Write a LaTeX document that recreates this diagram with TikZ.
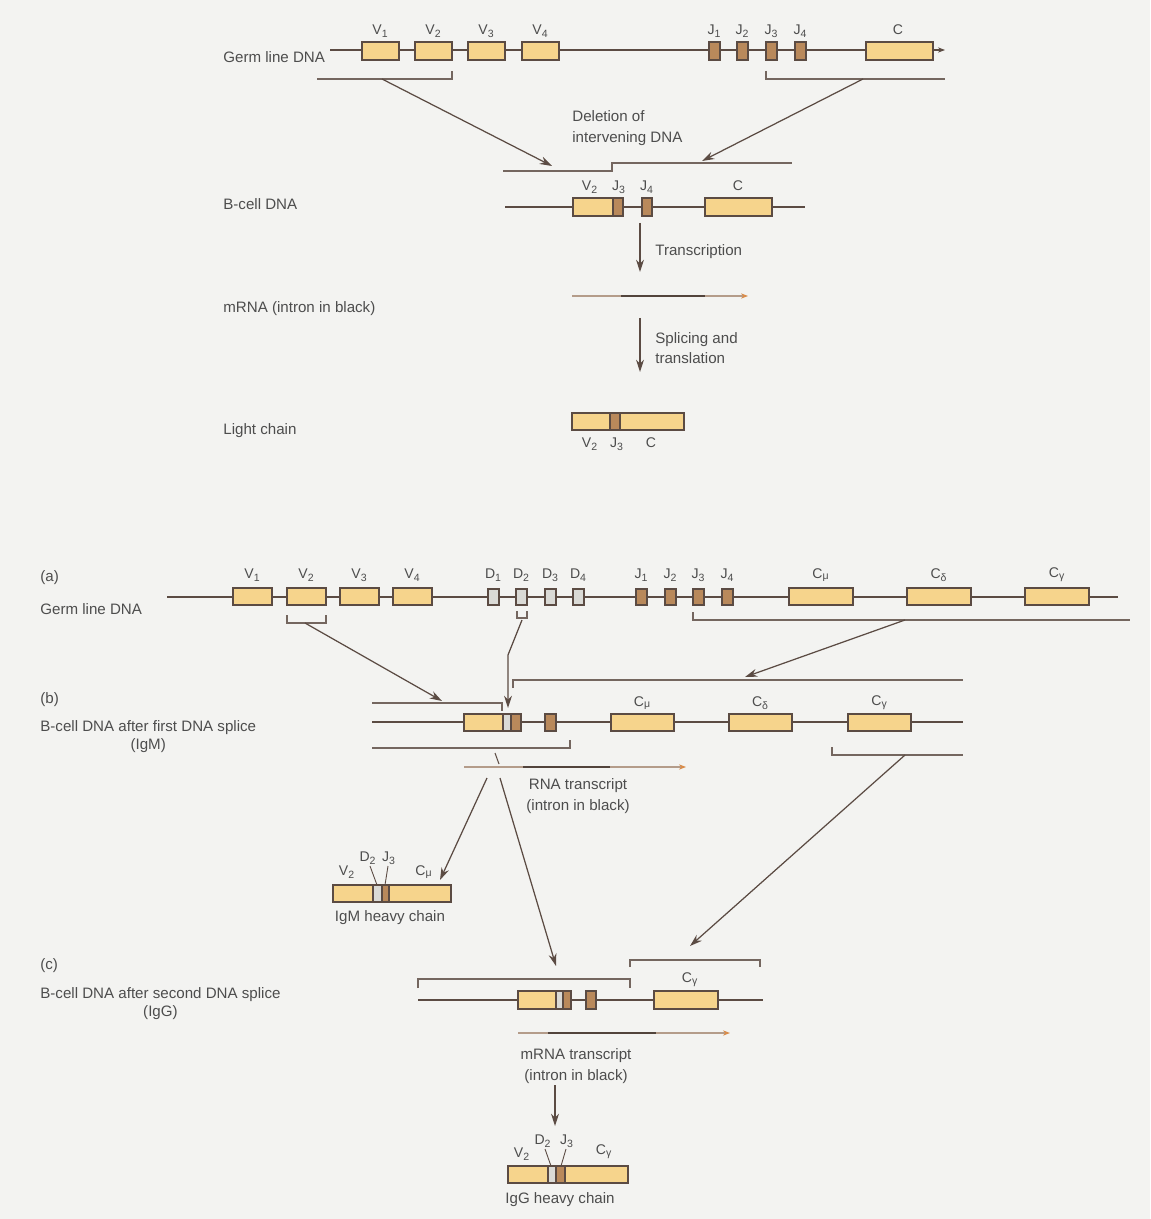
\documentclass[tikz,border=0pt]{standalone}
\usepackage{fontspec}
\setmainfont{Liberation Sans}
\usetikzlibrary{arrows.meta}
\definecolor{bgcol}{HTML}{F3F3F1}
\definecolor{dnacol}{HTML}{5B4B43}
\definecolor{vfill}{HTML}{F6D48C}
\definecolor{jfill}{HTML}{B9895B}
\definecolor{dfill}{HTML}{DADAD6}
\definecolor{txtcol}{HTML}{4D4D4D}
\definecolor{rnacol}{HTML}{B49C8A}
\definecolor{tipcol}{HTML}{D98C4A}
\tikzset{
  dna/.style={draw=dnacol, line width=1.1pt},
  vbox/.style={draw=dnacol, fill=vfill, line width=0.9pt},
  jbox/.style={draw=dnacol, fill=jfill, line width=0.9pt},
  dbox/.style={draw=dnacol, fill=dfill, line width=0.9pt},
  brak/.style={draw=dnacol!85, line width=0.8pt},
  arr/.style={draw=dnacol, line width=0.7pt, -{Stealth[length=7pt,width=4.5pt]}},
  rna/.style={draw=rnacol, line width=0.8pt, -{Stealth[length=4pt,width=3pt,color=tipcol]}},
  intron/.style={draw=dnacol!90!black, line width=1.4pt},
  lbl/.style={text=txtcol, font=\fontsize{8.6}{11.5}\selectfont, inner sep=0pt},
  seglbl/.style={text=txtcol, font=\fontsize{8}{9}\selectfont, inner sep=0pt}
}

\begin{document}
\begin{tikzpicture}[x=0.02cm, y=-0.02cm]
    \fill[bgcol] (0,0) rectangle (1150,1219);
    \useasboundingbox (0,0) rectangle (1150,1219);

    % light chain, germ line
    \node[lbl, anchor=west] (germA) at (223,57) {Germ line DNA};
    \draw[dna, -{Stealth[length=4pt,width=3pt]}] (330,50) -- (945,50);
    \foreach \x/\n in {362/1,415/2,468/3,522/4} {
        \draw[vbox] (\x,42) rectangle ++(37,18);
        \node[seglbl] (v\n) at (\x+18.5,31) {V\textsubscript{\n}};
    }
    \foreach \x/\n in {709/1,737/2,766/3,795/4} {
        \draw[jbox] (\x,42) rectangle ++(11,18);
        \node[seglbl] (j\n) at (\x+5.5,31) {J\textsubscript{\n}};
    }
    \draw[vbox] (866,42) rectangle (933,60);
    \node[seglbl] (c0) at (898,30) {C};
    \draw[brak] (317,79) -- (452,79) -- (452,71);
    \draw[brak] (766,71) -- (766,79) -- (945,79);
    \coordinate (bv) at (382,79);
    \coordinate (tv) at (552,166);
    \coordinate (bj) at (863,79);
    \coordinate (tj) at (702,161);
    \draw[arr] (bv) -- (tv);
    \draw[arr] (bj) -- (tj);
    \node[lbl, anchor=west, align=left] (del) at (572,128) {Deletion of\\intervening DNA};

    % B-cell DNA
    \draw[brak] (503,171) -- (612,171) -- (612,163) -- (792,163);
    \node[lbl, anchor=west] (bcell) at (223,204) {B-cell DNA};
    \draw[dna] (505,207) -- (805,207);
    \draw[vbox] (573,198) rectangle (613,216);
    \draw[jbox] (613,198) rectangle (623,216);
    \draw[jbox] (642,198) rectangle (652,216);
    \draw[vbox] (705,198) rectangle (772,216);
    \node[seglbl] (bv2) at (590,187) {V\textsubscript{2}};
    \node[seglbl] (bj3) at (619,187) {J\textsubscript{3}};
    \node[seglbl] (bj4) at (647,187) {J\textsubscript{4}};
    \node[seglbl] (bc) at (738,186) {C};

    % transcription and splicing
    \coordinate (tr1) at (640,223);
    \coordinate (tr2) at (640,272);
    \draw[arr] (tr1) -- (tr2);
    \node[lbl, anchor=west] (trans) at (655,252) {Transcription};
    \node[lbl, anchor=west] (mrna) at (223,309) {mRNA (intron in black)};
    \draw[rna] (572,296) -- (748,296);
    \draw[intron] (621,296) -- (705,296);
    \coordinate (sp1) at (640,318);
    \coordinate (sp2) at (640,372);
    \draw[arr] (sp1) -- (sp2);
    \node[lbl, anchor=west, align=left] (splice) at (655,348) {Splicing and\\translation};
    \node[lbl, anchor=west] (light) at (223,431) {Light chain};
    \draw[vbox] (572,413) rectangle (684,430);
    \draw[jbox] (610,413) rectangle (620,430);
    \node[seglbl] (lv2) at (590,444) {V\textsubscript{2}};
    \node[seglbl] (lj3) at (617,444) {J\textsubscript{3}};
    \node[seglbl] (lc) at (651,443) {C};

    % heavy chain (a) germ line
    \node[lbl, anchor=west] (la) at (40,578) {(a)};
    \node[lbl, anchor=west] (germB) at (40,609) {Germ line DNA};
    \draw[dna] (167,597) -- (1118,597);
    \foreach \x/\n in {233/1,287/2,340/3,393/4} {
        \draw[vbox] (\x,588) rectangle ++(39,17);
        \node[seglbl] (hv\n) at (\x+19.5,575) {V\textsubscript{\n}};
    }
    \foreach \x/\n in {488/1,516/2,545/3,573/4} {
        \draw[dbox] (\x,589) rectangle ++(11,16);
        \node[seglbl] (hd\n) at (\x+5.5,575) {D\textsubscript{\n}};
    }
    \foreach \x/\n in {636/1,665/2,693/3,722/4} {
        \draw[jbox] (\x,589) rectangle ++(11,16);
        \node[seglbl] (hj\n) at (\x+5.5,575) {J\textsubscript{\n}};
    }
    \foreach \x/\n/\g in {789/1/μ,907/2/δ,1025/3/γ} {
        \draw[vbox] (\x,588) rectangle ++(64,17);
        \node[seglbl] (hc\n) at (\x+32,575) {C\textsubscript{\g}};
    }
    \draw[brak] (287,615) -- (287,623) -- (326,623) -- (326,615);
    \draw[brak] (517,611) -- (517,618) -- (527,618) -- (527,611);
    \draw[brak] (693,612) -- (693,620) -- (1130,620);
    \coordinate (hbv) at (305,623);
    \coordinate (htv) at (442,701);
    \coordinate (hbd) at (522,620);
    \coordinate (hkd) at (508,655);
    \coordinate (htd) at (508,708);
    \coordinate (hbj) at (905,620);
    \coordinate (htj) at (745,677);
    \draw[arr] (hbv) -- (htv);
    \draw[arr] (hbd) -- (hkd) -- (htd);
    \draw[arr] (hbj) -- (htj);

    % (b) first splice
    \node[lbl, anchor=west] (lb) at (40,700) {(b)};
    \node[lbl, anchor=west, align=center, font=\fontsize{8.6}{10.3}\selectfont] (first) at (40,737) {B-cell DNA after first DNA splice\\(IgM)};
    \draw[brak] (372,703) -- (502,703) -- (502,711);
    \draw[brak] (513,688) -- (513,680) -- (963,680);
    \draw[dna] (372,722) -- (963,722);
    \draw[vbox] (464,714) rectangle (503,731);
    \draw[dbox] (503,714) rectangle (511,731);
    \draw[jbox] (511,714) rectangle (521,731);
    \draw[jbox] (545,714) rectangle (556,731);
    \foreach \x/\n/\g in {611/1/μ,729/2/δ,848/3/γ} {
        \draw[vbox] (\x,714) rectangle ++(63,17);
        \node[seglbl] (bc\n) at (\x+31.5,703) {C\textsubscript{\g}};
    }
    \draw[brak] (372,748) -- (570,748) -- (570,740);
    \draw[brak] (832,747) -- (832,755) -- (963,755);
    \draw[dnacol, line width=0.6pt] (495,753) -- (499,764);
    \draw[rna] (464,767) -- (686,767);
    \draw[intron] (523,767) -- (610,767);
    \node[lbl, align=center] (rnat) at (578,796) {RNA transcript\\(intron in black)};
    \coordinate (bgam) at (905,755);
    \coordinate (tgam) at (690,946);
    \draw[arr] (bgam) -- (tgam);
    \coordinate (r1) at (487,778);
    \coordinate (r2) at (500,778);
    \coordinate (tigm) at (440,880);
    \coordinate (tsec) at (556,966);
    \draw[arr] (r1) -- (tigm);
    \draw[arr] (r2) -- (tsec);

    % IgM heavy chain
    \draw[vbox] (333,885) rectangle (451,902);
    \draw[dbox] (373,885) rectangle (382,902);
    \draw[jbox] (382,885) rectangle (389,902);
    \node[seglbl] (mv) at (347,872) {V\textsubscript{2}};
    \node[seglbl] (md) at (368,858) {D\textsubscript{2}};
    \node[seglbl] (mj) at (389,858) {J\textsubscript{3}};
    \node[seglbl] (mc) at (424,872) {C\textsubscript{μ}};
    \draw[dnacol, line width=0.5pt] (370,866) -- (377,885);
    \draw[dnacol, line width=0.5pt] (388,866) -- (385,885);
    \node[lbl] (igm) at (390,918) {IgM heavy chain};

    % (c) second splice
    \node[lbl, anchor=west] (lc2) at (40,966) {(c)};
    \node[lbl, anchor=west, align=center, font=\fontsize{8.6}{10.3}\selectfont] (second) at (40,1004) {B-cell DNA after second DNA splice\\(IgG)};
    \draw[brak] (418,988) -- (418,979) -- (630,979) -- (630,988);
    \draw[brak] (630,967) -- (630,960) -- (760,960) -- (760,967);
    \draw[dna] (418,1000) -- (763,1000);
    \draw[vbox] (518,991) rectangle (556,1009);
    \draw[dbox] (556,991) rectangle (563,1009);
    \draw[jbox] (563,991) rectangle (571,1009);
    \draw[jbox] (586,991) rectangle (596,1009);
    \draw[vbox] (654,991) rectangle (718,1009);
    \node[seglbl] (gc) at (690,980) {C\textsubscript{γ}};
    \draw[rna] (518,1033) -- (730,1033);
    \draw[intron] (548,1033) -- (656,1033);
    \node[lbl, align=center] (mrnat) at (576,1066) {mRNA transcript\\(intron in black)};
    \coordinate (g1) at (555,1085);
    \coordinate (g2) at (555,1126);
    \draw[arr] (g1) -- (g2);

    % IgG heavy chain
    \draw[vbox] (508,1166) rectangle (628,1183);
    \draw[dbox] (548,1166) rectangle (556,1183);
    \draw[jbox] (556,1166) rectangle (565,1183);
    \node[seglbl] (gv) at (522,1154) {V\textsubscript{2}};
    \node[seglbl] (gd) at (543,1141) {D\textsubscript{2}};
    \node[seglbl] (gj) at (567,1141) {J\textsubscript{3}};
    \node[seglbl] (gcc) at (604,1152) {C\textsubscript{γ}};
    \draw[dnacol, line width=0.5pt] (545,1149) -- (551,1166);
    \draw[dnacol, line width=0.5pt] (566,1149) -- (561,1166);
    \node[lbl] (igg) at (560,1200) {IgG heavy chain};
\end{tikzpicture}
\end{document}
